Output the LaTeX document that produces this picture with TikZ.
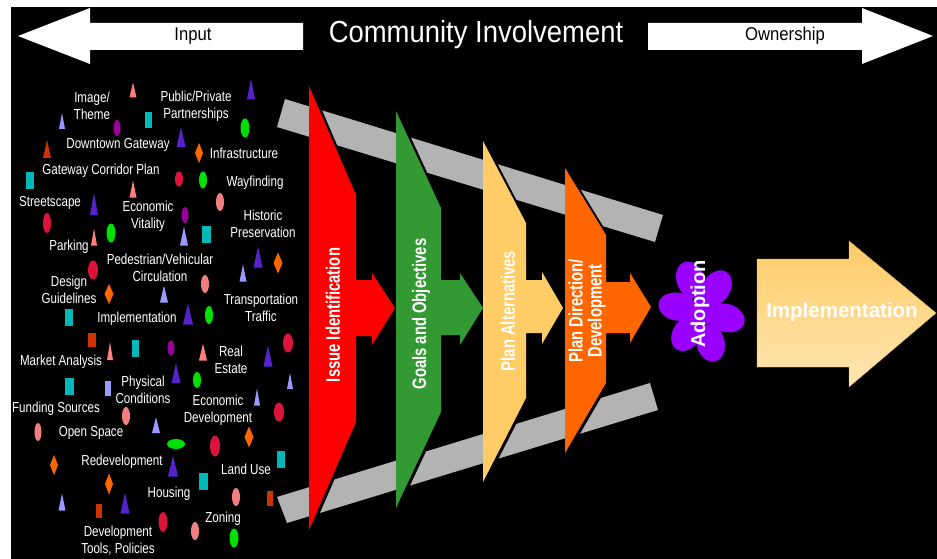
\documentclass[tikz,border=0pt]{standalone}
\usepackage{fontspec}
\setmainfont{Liberation Sans}
\newfontfamily\narrowfont[FakeStretch=0.8]{Liberation Sans}
\newfontfamily\stagefont[FakeStretch=0.76]{Liberation Sans}
\newfontfamily\titlefont[FakeStretch=0.9]{Liberation Sans}
\usepackage{tikz}
\usepackage{xcolor}
\definecolor{bandgray}{HTML}{B3B3B3}
\definecolor{issuered}{HTML}{FF0000}
\definecolor{goalgreen}{HTML}{339933}
\definecolor{planyellow}{HTML}{FFCC66}
\definecolor{dirorange}{HTML}{FF6600}
\definecolor{adoptpurple}{HTML}{9900FF}
\definecolor{implhi}{HTML}{FFCC66}
\definecolor{impllo}{HTML}{FFE6B3}
\definecolor{shpink}{HTML}{FF7F7F}
\definecolor{shviolet}{HTML}{5522CC}
\definecolor{shlav}{HTML}{9999FF}
\definecolor{shrust}{HTML}{CC3300}
\definecolor{shteal}{HTML}{00B8B8}
\definecolor{shplum}{HTML}{990099}
\definecolor{shgreen}{HTML}{00E000}
\definecolor{shcrimson}{HTML}{DC143C}
\definecolor{shrose}{HTML}{F08080}
\definecolor{shorange}{HTML}{FF6600}
\tikzset{lbl/.style={text=white, align=center, inner sep=0pt,
   font=\narrowfont\fontsize{14.5}{17}\selectfont},
 stagelbl/.style={text=white, rotate=90, align=center, inner sep=0pt,
   font=\stagefont\bfseries\fontsize{19.5}{19}\selectfont},
 stage/.style={preaction={fill=black, transform canvas={xshift=3pt, yshift=-1pt}}},
 band/.style={fill=bandgray},
 toparrow/.style={fill=white},
 }

\begin{document}
\begin{tikzpicture}[x=1pt, y=-1pt]
        \useasboundingbox (0,0) rectangle (937,559);
        \fill[white] (0,0) rectangle (937,559);
        \fill[black] (11,7) rectangle (937,559);

        \fill[toparrow] (18,36) -- (90,8) -- (90,23) -- (303,23) -- (303,50) -- (90,50) -- (90,64) -- cycle;
        \fill[toparrow] (648,23) -- (862,23) -- (862,8) -- (933,36) -- (862,64) -- (862,50) -- (648,50) -- cycle;
        \node[font=\titlefont\fontsize{18.5}{20}\selectfont] (input) at (193,36) {Input};
        \node[font=\titlefont\fontsize{18.5}{20}\selectfont] (owner) at (785,36) {Ownership};
        \node[text=white, font=\titlefont\fontsize{30.5}{32}\selectfont] (title) at (476,35) {Community Involvement};

        \fill[band] (285,99) -- (663,215) -- (655,242) -- (277,127) -- cycle;
        \fill[band] (277,497) -- (650,383) -- (658,410) -- (287,523) -- cycle;

        \fill[stage, issuered] (309,86) -- (356,195) -- (356,280) -- (372,280) -- (372,273) -- (395,308)
            -- (372,345) -- (372,336) -- (356,336) -- (356,422) -- (309,530) -- cycle;
        \fill[stage, goalgreen] (396,111) -- (441,208) -- (441,280) -- (460,280) -- (460,273) -- (483,308)
            -- (460,345) -- (460,335) -- (441,335) -- (441,412) -- (396,508) -- cycle;
        \fill[stage, planyellow] (483,141) -- (526,223) -- (526,280) -- (542,280) -- (542,272) -- (563,308)
            -- (542,344) -- (542,333) -- (526,333) -- (526,398) -- (483,482) -- cycle;
        \fill[stage, dirorange] (565,168) -- (606,235) -- (606,282) -- (630,282) -- (630,273) -- (651,307)
            -- (630,343) -- (630,333) -- (606,333) -- (606,383) -- (565,453) -- cycle;

        \node[stagelbl] (issue) at (333,315) {Issue Identification};
        \node[stagelbl] (goals) at (421,314) {Goals and Objectives};
        \node[stagelbl] (alts) at (508,311) {Plan Alternatives};
        \node[stagelbl] (direction) at (587,311) {Plan Direction/\\Development};

        \begin{scope}[shift={(702,311)}]
            \fill[adoptpurple] (0,0) circle [radius=14];
            \foreach \a/\d in {110/33, 58/27, -16/25, -75/33, -124/27, 170/25} {
                \fill[adoptpurple, rotate=\a] (\d,0) ellipse [x radius=19, y radius=14];
            }
        \end{scope}
        \node[rotate=90, text=white, font=\bfseries\fontsize{20}{24}\selectfont] (adopt) at (700,304) {Adoption};

        \shade[top color=implhi, bottom color=impllo, draw=implhi!85!black]
            (757,259) -- (849,259) -- (849,241) -- (936,313) -- (849,387) -- (849,367) -- (757,367) -- cycle;
        \node[text=white, font=\bfseries\fontsize{20.5}{24}\selectfont] (impl) at (842,312) {Implementation};

        \foreach \x/\y/\w/\h/\c in {133/90/7/15/shpink, 251/89/8/21/shviolet, 62/121/6/16/shlav,
            181/137/9/20/shviolet, 47/149/8/18/shrust, 133/189/7/17/shpink, 94/204/8/22/shviolet,
            94/237/6/17/shpink, 184/236/8/19/shlav, 258/257/9/21/shviolet, 243/273/7/17/shlav,
            164/294/8/17/shlav, 188/314/10/21/shviolet, 110/351/6/18/shpink, 203/352/8/17/shpink,
            268/356/9/21/shviolet, 176/373/9/20/shviolet, 290/381/6/16/shlav, 257/397/6/17/shlav,
            156/425/8/16/shlav, 173/466/10/21/shviolet, 62/502/7/17/shlav, 125/503/9/21/shviolet} {
            \fill[\c] ({\x-\w/2},{\y+\h/2}) -- (\x,{\y-\h/2}) -- ({\x+\w/2},{\y+\h/2}) -- cycle;
        }
        \foreach \x/\y/\rx/\ry/\c in {117/128/3.5/8/shplum, 245/128/4.5/9.5/shgreen, 179/179/4/7.5/shcrimson,
            203/180/4/8.5/shgreen, 220/202/4/9/shrose, 47/223/4/10/shcrimson, 185/215/3.5/8/shplum,
            111/233/4.5/9.5/shgreen, 93/270/5/9.5/shcrimson, 205/284/4/9/shrose, 209/315/4/9/shgreen,
            171/348/3.5/7.5/shplum, 288/343/5/9.5/shcrimson, 197/380/4/8/shgreen, 279/412/5/9.5/shcrimson,
            126/416/4/9/shrose, 38/432/3.5/9/shrose, 176/444/9/5/shgreen, 215/446/5/10.5/shcrimson,
            236/497/4/9/shrose, 163/522/4.5/10/shcrimson, 195/531/4/9/shrose, 234/538/4.5/9.5/shgreen} {
            \fill[\c] (\x,\y) ellipse [x radius=\rx, y radius=\ry];
        }
        \foreach \x/\y/\w/\h/\c in {148/120/7/16/shteal, 30/180/8/17/shteal, 206/234/9/17/shteal,
            69/317/8/17/shteal, 92/340/8/14/shrust, 135/348/7/17/shteal, 69/386/9/17/shteal,
            108/388/6/15/shlav, 281/459/8/17/shteal, 203/481/9/17/shteal, 270/498/6/15/shrust,
            99/511/6/14/shrust} {
            \fill[\c] ({\x-\w/2},{\y-\h/2}) rectangle ({\x+\w/2},{\y+\h/2});
        }
        \foreach \x/\y/\w/\h in {199/153/8/20, 278/263/9/21, 109/294/9/20, 249/437/9/21,
            54/465/8/20, 109/484/8/21} {
            \fill[shorange] (\x,{\y-\h/2}) -- ({\x+\w/2},\y) -- (\x,{\y+\h/2}) -- ({\x-\w/2},\y) -- cycle;
        }

        \node[lbl] (image) at (92,106) {Image/\\Theme};
        \node[lbl] (partner) at (196,106) {Public/Private\\Partnerships};
        \node[lbl] (downtown) at (118,145) {Downtown Gateway};
        \node[lbl] (infra) at (244,153) {Infrastructure};
        \node[lbl] (corridor) at (101,171) {Gateway Corridor Plan};
        \node[lbl] (wayfind) at (255,183) {Wayfinding};
        \node[lbl] (street) at (50,203) {Streetscape};
        \node[lbl] (vitality) at (148,216) {Economic\\Vitality};
        \node[lbl] (historic) at (263,224) {Historic\\Preservation};
        \node[lbl] (parking) at (69,247) {Parking};
        \node[lbl] (pedveh) at (160,268) {Pedestrian/Vehicular\\Circulation};
        \node[lbl] (design) at (69,290) {Design\\Guidelines};
        \node[lbl] (transp) at (261,308) {Transportation\\Traffic};
        \node[lbl] (implem) at (137,319) {Implementation};
        \node[lbl] (market) at (61,362) {Market Analysis};
        \node[lbl] (realest) at (231,360) {Real\\Estate};
        \node[lbl] (physical) at (143,390) {Physical\\Conditions};
        \node[lbl] (funding) at (56,409) {Funding Sources};
        \node[lbl] (econdev) at (218,410) {Economic\\Development};
        \node[lbl] (openspace) at (91,433) {Open Space};
        \node[lbl] (redev) at (122,462) {Redevelopment};
        \node[lbl] (landuse) at (246,469) {Land Use};
        \node[lbl] (housing) at (169,494) {Housing};
        \node[lbl] (zoning) at (223,519) {Zoning};
        \node[lbl] (devtools) at (118,541) {Development\\Tools, Policies};
    \end{tikzpicture}
\end{document}
